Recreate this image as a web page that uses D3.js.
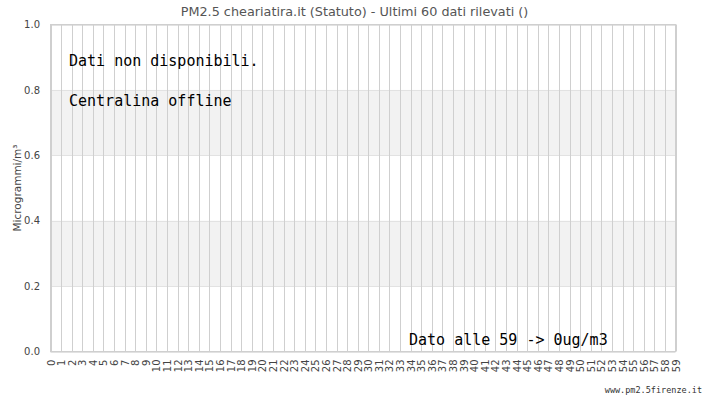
<!DOCTYPE html>
<html>
<head>
<meta charset="utf-8">
<script src="https://cdn.jsdelivr.net/npm/d3@7"></script>
<style>
  body { margin: 0; background: #fff; }
  svg { display: block; }
</style>
</head>
<body>
<svg id="chart" width="705" height="400"></svg>
<script>
const title = "PM2.5 cheariatira.it (Statuto) - Ultimi 60 dati rilevati ()";
const yTitle = "Microgrammi/m³";
const categories = ["0","1","2","3","4","5","6","7","8","9","10","11","12","13","14","15","16","17","18","19",
  "20","21","22","23","24","25","26","27","28","29","30","31","32","33","34","35","36","37","38","39",
  "40","41","42","43","44","45","46","47","48","49","50","51","52","53","54","55","56","57","58","59"];
// no readings available: every slot is empty
const values = [null,null,null,null,null,null,null,null,null,null,null,null,null,null,null,null,null,null,null,null,
  null,null,null,null,null,null,null,null,null,null,null,null,null,null,null,null,null,null,null,null,
  null,null,null,null,null,null,null,null,null,null,null,null,null,null,null,null,null,null,null,null];
const yTicks = [0, 0.2, 0.4, 0.6, 0.8, 1.0];
const bands = [[0.2, 0.4], [0.6, 0.8]];
const notes = ["Dati non disponibili.", "Centralina offline"];
const lastNote = "Dato alle 59 -> 0ug/m3";
const footer = "www.pm2.5firenze.it";

const margin = { top: 24, right: 30, bottom: 49, left: 50 };
const width = 705, height = 400;
const svg = d3.select("#chart");

const x = d3.scalePoint()
  .domain(categories)
  .range([margin.left + 0.5, width - margin.right + 0.5]);

const y = d3.scaleLinear()
  .domain([0, 1])
  .range([height - margin.bottom + 0.5, margin.top + 0.5]);

// bands
svg.append("g").selectAll("rect")
  .data(bands)
  .join("rect")
  .attr("x", x.range()[0])
  .attr("width", x.range()[1] - x.range()[0])
  .attr("y", d => y(d[1]))
  .attr("height", d => y(d[0]) - y(d[1]))
  .attr("fill", "#f2f2f2");

// horizontal grid
svg.append("g").selectAll("line")
  .data(yTicks)
  .join("line")
  .attr("x1", x.range()[0])
  .attr("x2", x.range()[1])
  .attr("y1", d => Math.round(y(d)) + 0.5)
  .attr("y2", d => Math.round(y(d)) + 0.5)
  .attr("stroke", "#e2e2e2");

// vertical grid
svg.append("g").selectAll("line")
  .data(categories)
  .join("line")
  .attr("x1", d => Math.round(x(d)) + 0.5)
  .attr("x2", d => Math.round(x(d)) + 0.5)
  .attr("y1", y(1))
  .attr("y2", y(0))
  .attr("stroke", "#cfcfcf");

// frame
svg.append("rect")
  .attr("x", x.range()[0])
  .attr("y", y(1))
  .attr("width", x.range()[1] - x.range()[0])
  .attr("height", y(0) - y(1))
  .attr("fill", "none")
  .attr("stroke", "#cfcfcf");

// series line (nothing drawn when values are missing)
const line = d3.line()
  .defined(d => d != null)
  .x((d, i) => x(categories[i]))
  .y(d => y(d));
svg.append("path")
  .datum(values)
  .attr("d", line)
  .attr("fill", "none")
  .attr("stroke", "#3366cc")
  .attr("stroke-width", 2);

// y axis labels
const yAxis = svg.append("g")
  .attr("transform", `translate(${margin.left},0)`)
  .call(d3.axisLeft(y).tickValues(yTicks).tickFormat(d3.format(".1f")).tickSize(0).tickPadding(10));
yAxis.select(".domain").remove();
yAxis.selectAll("text")
  .attr("font-family", "DejaVu Sans")
  .attr("font-size", 10)
  .attr("fill", "#444");

// x axis labels
const xAxis = svg.append("g")
  .attr("transform", `translate(0,${y(0)})`)
  .call(d3.axisBottom(x).tickSize(0).tickPadding(0));
xAxis.select(".domain").remove();
xAxis.selectAll("text")
  .attr("font-family", "DejaVu Sans")
  .attr("font-size", 10)
  .attr("fill", "#444")
  .attr("transform", "rotate(-90)")
  .attr("text-anchor", "end")
  .attr("x", -8)
  .attr("y", 0)
  .attr("dy", "0.35em");

// titles
svg.append("text")
  .attr("x", width / 2 + 2)
  .attr("y", 16)
  .attr("text-anchor", "middle")
  .attr("font-family", "DejaVu Sans")
  .attr("font-size", 12.8)
  .attr("fill", "#555")
  .text(title);

svg.append("text")
  .attr("transform", `translate(21,${(y(0) + y(1)) / 2}) rotate(-90)`)
  .attr("text-anchor", "middle")
  .attr("font-family", "DejaVu Sans")
  .attr("font-size", 10.5)
  .attr("fill", "#444")
  .text(yTitle);

// notes
svg.append("g").selectAll("text")
  .data(notes)
  .join("text")
  .attr("x", 69)
  .attr("y", (d, i) => 66 + i * 40)
  .attr("font-family", "DejaVu Sans Mono")
  .attr("font-size", 15)
  .attr("fill", "#000")
  .text(d => d);

svg.append("text")
  .attr("x", 409)
  .attr("y", 345)
  .attr("font-family", "DejaVu Sans Mono")
  .attr("font-size", 15)
  .attr("fill", "#000")
  .text(lastNote);

svg.append("text")
  .attr("x", 702)
  .attr("y", 393)
  .attr("text-anchor", "end")
  .attr("font-family", "DejaVu Sans Mono")
  .attr("font-size", 8.5)
  .attr("fill", "#333")
  .text(footer);
</script>
</body>
</html>
